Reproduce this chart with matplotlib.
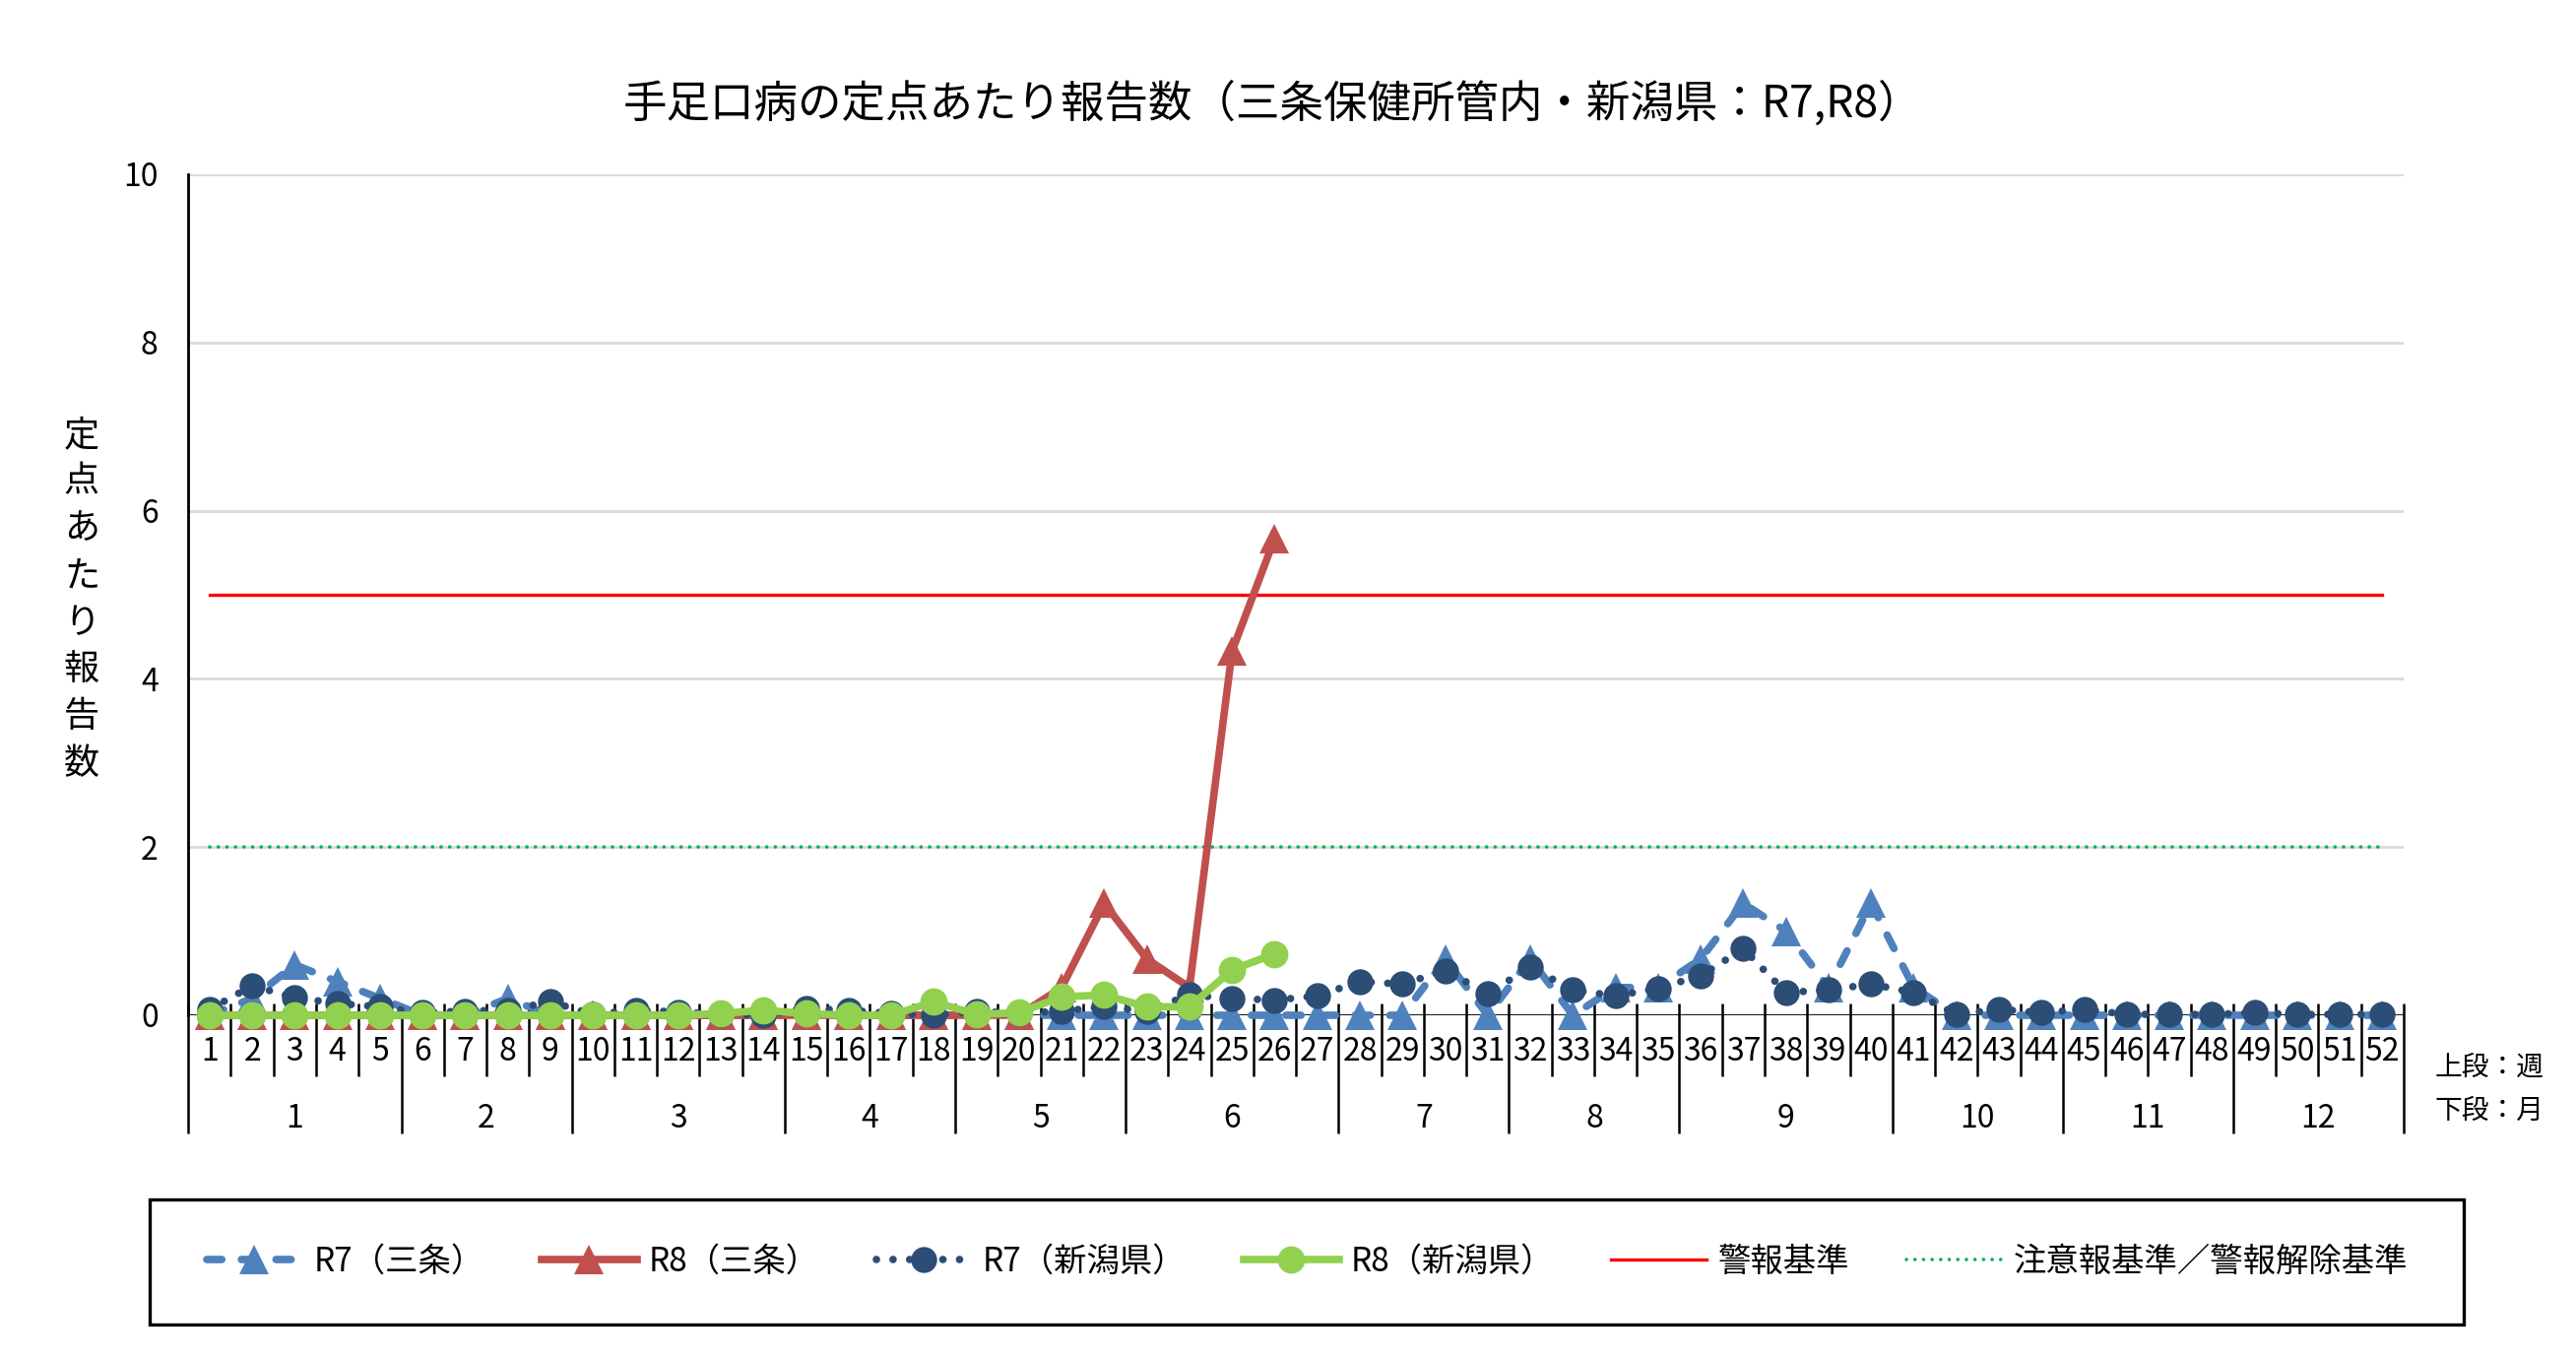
import numpy as np
import matplotlib
matplotlib.use("Agg")
import matplotlib.pyplot as plt
from matplotlib.patches import Rectangle

plt.rcParams['font.family'] = ['Noto Sans CJK JP', 'DejaVu Sans']

# data: weekly reports per sentinel site
weeks = np.arange(1, 53)
r7_sanjo = [0, 0.2, 0.6, 0.4, 0.2, 0, 0, 0.2, 0, 0,
            0, 0, 0, 0, 0, 0, 0, 0, 0, 0,
            0, 0, 0, 0, 0, 0, 0, 0, 0, 0.67,
            0, 0.67, 0, 0.33, 0.33, 0.67, 1.33, 1.0, 0.33, 1.33,
            0.33, 0, 0, 0, 0, 0, 0, 0, 0, 0,
            0, 0]
r8_sanjo = [0, 0, 0, 0, 0, 0, 0, 0, 0, 0,
            0, 0, 0, 0, 0, 0, 0, 0, 0, 0,
            0.33, 1.33, 0.67, 0.33, 4.33, 5.67]
r7_niigata = [0.07, 0.35, 0.21, 0.14, 0.1, 0.03, 0.05, 0.06, 0.16, 0.01,
              0.06, 0.04, 0.01, 0.0, 0.08, 0.06, 0.02, 0.0, 0.05, 0.02,
              0.05, 0.1, 0.05, 0.24, 0.2, 0.18, 0.23, 0.4, 0.37, 0.53,
              0.26, 0.57, 0.3, 0.23, 0.32, 0.47, 0.79, 0.27, 0.3, 0.37,
              0.27, 0.01, 0.07, 0.03, 0.07, 0.01, 0.01, 0.01, 0.03, 0.01,
              0.01, 0.01]
r8_niigata = [0, 0, 0, 0, 0, 0, 0, 0, 0, 0,
              0, 0, 0.02, 0.06, 0.02, 0, 0, 0.16, 0.01, 0.03,
              0.22, 0.24, 0.1, 0.1, 0.54, 0.73]
alert_level = 5
warning_level = 2
month_labels = [str(m) for m in range(1, 13)]
weeks_per_month = [5, 4, 5, 4, 4, 5, 4, 4, 5, 4, 4, 4]

title = "手足口病の定点あたり報告数（三条保健所管内・新潟県：R7,R8）"
ylabel = "定点あたり報告数"
series_names = ["R7（三条）", "R8（三条）", "R7（新潟県）", "R8（新潟県）",
                "警報基準", "注意報基準／警報解除基準"]

c_lblue = "#4F81BD"
c_red = "#C0504D"
c_dark = "#2C4D75"
c_green = "#92D050"
narrow = ['Liberation Sans Narrow', 'Noto Sans CJK JP']

fig = plt.figure(figsize=(26.16, 13.77), dpi=100)
ax = fig.add_axes([0.0731, 0.2513, 0.860, 0.6202])

ax.set_xlim(0.5, 52.5)
ax.set_ylim(0, 10)
for s in ["top", "right", "bottom"]:
    ax.spines[s].set_visible(False)
ax.spines["left"].set_linewidth(2)
ax.set_yticks(np.arange(0, 11, 2))
ax.tick_params(axis="y", length=0, pad=22, labelsize=23)
ax.grid(axis="y", color="#D9D9D9", linewidth=2)
ax.set_axisbelow(True)
ax.axhline(0, color="black", linewidth=2, zorder=1.5)

ax.set_xticks(weeks)
ax.set_xticklabels([str(w) for w in weeks], fontsize=23, family=narrow)
ax.tick_params(axis="x", length=0, pad=15)

# week / month separator lines under the axis
trans = ax.get_xaxis_transform()
month_ends = np.cumsum(weeks_per_month)
month_bounds = np.concatenate([[0], month_ends]) + 0.5
week_bounds = [w + 0.5 for w in weeks if w not in month_ends]
ax.vlines(week_bounds, -0.0726, 0.014, transform=trans, color="black",
          linewidth=1.8, clip_on=False)
ax.vlines(month_bounds, -0.1405, 0.014, transform=trans, color="black",
          linewidth=1.8, clip_on=False)
month_centers = (month_bounds[:-1] + month_bounds[1:]) / 2
for xc, lab in zip(month_centers, month_labels):
    ax.text(xc, -0.123, lab, transform=trans, ha="center", va="center",
            fontsize=23, family=narrow)

lw = 5.5
ax.plot(weeks, [alert_level] * len(weeks), color="#FF0000", linewidth=2.4,
        zorder=2, label=series_names[4])
ax.plot(weeks, [warning_level] * len(weeks), color="#00B050", linewidth=2.6,
        linestyle=(0, (0.01, 2.4)), dash_capstyle="round", zorder=2,
        label=series_names[5])

ax.plot(weeks, r7_sanjo, color=c_lblue, linewidth=lw,
        linestyle=(0, (2, 2.6)), dash_capstyle="round",
        marker="^", markersize=21, markeredgewidth=0, zorder=3,
        clip_on=False, label=series_names[0])
ax.plot(weeks[:len(r8_sanjo)], r8_sanjo, color=c_red, linewidth=lw,
        marker="^", markersize=21, markeredgewidth=0, zorder=4,
        clip_on=False, label=series_names[1])
ax.plot(weeks, r7_niigata, color=c_dark, linewidth=lw,
        linestyle=(0, (0.01, 2.2)), dash_capstyle="round",
        marker="o", markersize=19, markeredgewidth=0, zorder=5,
        clip_on=False, label=series_names[2])
ax.plot(weeks[:len(r8_niigata)], r8_niigata, color=c_green, linewidth=lw,
        marker="o", markersize=20, markeredgewidth=0, zorder=6,
        clip_on=False, label=series_names[3])

fig.text(0.494, 0.9237, title, ha="center", va="center", fontsize=32)

# vertical y label, one character per line
for i, ch in enumerate(ylabel):
    fig.text(0.0317, 1 - (442 + i * 47.7) / 1377, ch, ha="center",
             va="center", fontsize=26)

fig.text(0.9453, 0.2128, "上段：週", ha="left", va="center", fontsize=20)
fig.text(0.9453, 0.1808, "下段：月", ha="left", va="center", fontsize=20)

handles, labels = ax.get_legend_handles_labels()
order = [2, 3, 4, 5, 0, 1]
leg = fig.legend([handles[i] for i in order], [labels[i] for i in order],
                 loc="center", bbox_to_anchor=(0.5075, 0.0694),
                 ncol=6, fontsize=24, frameon=False, handlelength=2.9,
                 handletextpad=0.35, columnspacing=1.75)

# legend box drawn separately so it matches the reference size
fig.patches.append(Rectangle((152 / 2616, 1 - 1345 / 1377),
                             (2502 - 152) / 2616, (1345 - 1218) / 1377,
                             transform=fig.transFigure, fill=False,
                             edgecolor="black", linewidth=2.4))

fig.savefig("out.png", dpi=100)
